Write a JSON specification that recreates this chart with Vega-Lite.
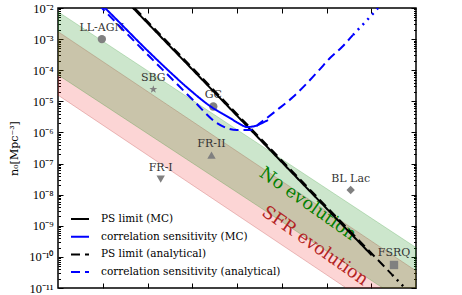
{
  "$schema": "https://vega.github.io/schema/vega-lite/v6.json",
  "width": 358,
  "height": 280,
  "autosize": {"type": "none"},
  "padding": {"left": 58, "top": 8, "right": 46, "bottom": 7},
  "background": "white",
  "config": {
    "view": {"stroke": "black", "strokeWidth": 1.5},
    "axis": {"grid": false, "domain": false, "tickColor": "black", "tickWidth": 1}
  },
  "datasets": {
    "bands": [
      {"band": "SFR evolution", "x": 0, "top": 1.74e-3, "bot": 1.58e-5},
      {"band": "SFR evolution", "x": 8, "top": 3.55e-11, "bot": 3.16e-13},
      {"band": "No evolution", "x": 0, "top": 7.59e-3, "bot": 7.08e-5},
      {"band": "No evolution", "x": 8, "top": 2.0e-10, "bot": 2.0e-12}
    ],
    "bandlabels": [
      {"label": "No evolution", "x": 5.58, "n": 5.0e-9},
      {"label": "SFR evolution", "x": 5.74, "n": 2.22e-10}
    ],
    "sources": [
      {"name": "LL-AGN", "x": 0.98, "n": 1.0e-3},
      {"name": "SBG", "x": 2.13, "n": 2.43e-5},
      {"name": "GC", "x": 3.47, "n": 6.8e-6},
      {"name": "FR-II", "x": 3.43, "n": 1.86e-7},
      {"name": "FR-I", "x": 2.295, "n": 3.16e-8},
      {"name": "BL Lac", "x": 6.54, "n": 1.41e-8},
      {"name": "FSRQ", "x": 7.508, "n": 5.5e-11}
    ],
    "lines": [
      {"series": "PS limit (MC)", "x": 1.5, "n": 1.83e-2},
      {"series": "PS limit (MC)", "x": 7.01, "n": 1.13e-10},
      {"series": "correlation sensitivity (MC)", "x": 0.95, "n": 1.38e-2},
      {"series": "correlation sensitivity (MC)", "x": 1.05, "n": 1.0e-2},
      {"series": "correlation sensitivity (MC)", "x": 2.056, "n": 3.57e-4},
      {"series": "correlation sensitivity (MC)", "x": 2.503, "n": 8.75e-5},
      {"series": "correlation sensitivity (MC)", "x": 2.95, "n": 2.31e-5},
      {"series": "correlation sensitivity (MC)", "x": 3.397, "n": 7.06e-6},
      {"series": "correlation sensitivity (MC)", "x": 3.844, "n": 2.9e-6},
      {"series": "correlation sensitivity (MC)", "x": 4.067, "n": 1.86e-6},
      {"series": "correlation sensitivity (MC)", "x": 4.223, "n": 1.49e-6},
      {"series": "correlation sensitivity (MC)", "x": 4.402, "n": 1.61e-6},
      {"series": "correlation sensitivity (MC)", "x": 4.559, "n": 2.0e-6},
      {"series": "correlation sensitivity (MC)", "x": 4.693, "n": 2.51e-6},
      {"series": "PS limit (analytical)", "x": 1.5, "n": 2.06e-2},
      {"series": "PS limit (analytical)", "x": 7.464, "n": 2.7e-11},
      {"series": "correlation sensitivity (analytical)", "x": 0.9, "n": 1.32e-2},
      {"series": "correlation sensitivity (analytical)", "x": 2.056, "n": 2.65e-4},
      {"series": "correlation sensitivity (analytical)", "x": 2.503, "n": 6.04e-5},
      {"series": "correlation sensitivity (analytical)", "x": 3.017, "n": 1.1e-5},
      {"series": "correlation sensitivity (analytical)", "x": 3.553, "n": 2.0e-6},
      {"series": "correlation sensitivity (analytical)", "x": 4.0, "n": 1.19e-6},
      {"series": "correlation sensitivity (analytical)", "x": 4.291, "n": 1.19e-6},
      {"series": "correlation sensitivity (analytical)", "x": 4.514, "n": 2.0e-6},
      {"series": "correlation sensitivity (analytical)", "x": 4.894, "n": 5.25e-6},
      {"series": "correlation sensitivity (analytical)", "x": 5.251, "n": 1.37e-5},
      {"series": "correlation sensitivity (analytical)", "x": 5.631, "n": 4.84e-5},
      {"series": "correlation sensitivity (analytical)", "x": 5.855, "n": 1.09e-4},
      {"series": "correlation sensitivity (analytical)", "x": 6.078, "n": 2.47e-4},
      {"series": "correlation sensitivity (analytical)", "x": 6.346, "n": 5.57e-4},
      {"series": "correlation sensitivity (analytical)", "x": 6.592, "n": 1.36e-3}
    ],
    "dotblack": [
      {"x": 7.464, "n": 2.7e-11},
      {"x": 8.0, "n": 4.3e-12}
    ],
    "dotblue": [
      {"x": 6.592, "n": 1.36e-3},
      {"x": 6.9, "n": 4.0e-3},
      {"x": 7.151, "n": 1.0e-2},
      {"x": 7.2, "n": 1.2e-2}
    ]
  },
  "resolve": {"axis": {"x": "independent", "y": "independent"}},
  "layer": [
    {
      "data": {"name": "bands"},
      "transform": [{"filter": "datum.band == 'SFR evolution'"}],
      "mark": {"type": "area", "clip": true, "fill": "#f01818", "fillOpacity": 0.18, "stroke": "#b22222", "strokeOpacity": 0.25, "strokeWidth": 1},
      "encoding": {
        "x": {"field": "x", "type": "quantitative", "scale": {"domain": [0, 8], "nice": false, "zero": false},
              "axis": {"orient": "bottom", "values": [1, 2, 3, 4, 5, 6, 7], "tickSize": -5, "labels": false, "title": null}},
        "y": {"field": "top", "type": "quantitative", "scale": {"type": "log", "domain": [1e-11, 1e-2], "nice": false},
              "axis": {"orient": "left", "values": [1e-11, 1e-10, 1e-9, 1e-8, 1e-7, 1e-6, 1e-5, 1e-4, 1e-3, 1e-2], "tickSize": -5,
                       "labelExpr": "'10' + ['⁻²','⁻³','⁻⁴','⁻⁵','⁻⁶','⁻⁷','⁻⁸','⁻⁹','⁻¹⁰','⁻¹¹'][-round(log(datum.value)/LN10)-2]",
                       "labelFont": "Liberation Serif", "labelFontSize": 12.5, "labelColor": "black", "labelPadding": 10,
                       "title": "n₀[Mpc⁻³]", "titleFont": "DejaVu Serif", "titleFontSize": 11, "titleFontWeight": "normal", "titleColor": "black",
                       "titleX": -44, "titleY": 140, "titleBaseline": "middle", "titleAlign": "center", "titleAngle": -90}},
        "y2": {"field": "bot"}
      }
    },
    {
      "data": {"name": "bands"},
      "transform": [{"filter": "datum.band == 'No evolution'"}],
      "mark": {"type": "area", "clip": true, "fill": "green", "fillOpacity": 0.2, "stroke": "green", "strokeOpacity": 0.2, "strokeWidth": 1},
      "encoding": {
        "x": {"field": "x", "type": "quantitative", "scale": {"domain": [0, 8], "nice": false, "zero": false},
              "axis": {"orient": "top", "values": [1, 2, 3, 4, 5, 6, 7], "tickSize": -5, "labels": false, "title": null}},
        "y": {"field": "top", "type": "quantitative", "scale": {"type": "log", "domain": [1e-11, 1e-2], "nice": false},
              "axis": {"orient": "right", "values": [1e-11, 1e-10, 1e-9, 1e-8, 1e-7, 1e-6, 1e-5, 1e-4, 1e-3, 1e-2], "tickSize": -5, "labels": false, "title": null}},
        "y2": {"field": "bot"}
      }
    },
    {
      "data": {"name": "sources"},
      "mark": {"type": "point", "filled": true, "color": "grey", "opacity": 1, "size": 70},
      "encoding": {
        "x": {"field": "x", "type": "quantitative", "scale": {"domain": [0, 8], "nice": false, "zero": false}, "axis": null},
        "y": {"field": "n", "type": "quantitative", "scale": {"type": "log", "domain": [1e-11, 1e-2], "nice": false},
              "axis": {"orient": "left", "values": [2e-11,3e-11,4e-11,5e-11,6e-11,7e-11,8e-11,9e-11,2e-10,3e-10,4e-10,5e-10,6e-10,7e-10,8e-10,9e-10,2e-9,3e-9,4e-9,5e-9,6e-9,7e-9,8e-9,9e-9,2e-8,3e-8,4e-8,5e-8,6e-8,7e-8,8e-8,9e-8,2e-7,3e-7,4e-7,5e-7,6e-7,7e-7,8e-7,9e-7,2e-6,3e-6,4e-6,5e-6,6e-6,7e-6,8e-6,9e-6,2e-5,3e-5,4e-5,5e-5,6e-5,7e-5,8e-5,9e-5,2e-4,3e-4,4e-4,5e-4,6e-4,7e-4,8e-4,9e-4,2e-3,3e-3,4e-3,5e-3,6e-3,7e-3,8e-3,9e-3], "tickSize": -2.5, "labels": false, "title": null}},
        "shape": {"field": "name", "type": "nominal", "legend": null,
                  "scale": {"domain": ["LL-AGN", "SBG", "GC", "FR-I", "FR-II", "BL Lac", "FSRQ"],
                            "range": ["circle", "M0,-1L0.235,-0.324L0.951,-0.309L0.38,0.124L0.588,0.809L0,0.4L-0.588,0.809L-0.38,0.124L-0.951,-0.309L-0.235,-0.324Z", "circle", "triangle-down", "triangle-up", "diamond", "square"]}}
      }
    },
    {
      "data": {"name": "sources"},
      "mark": {"type": "text", "font": "DejaVu Serif", "fontSize": 11, "color": "#333333", "dy": -11.5, "baseline": "middle", "align": "center"},
      "encoding": {
        "x": {"field": "x", "type": "quantitative", "scale": {"domain": [0, 8], "nice": false, "zero": false}, "axis": null},
        "y": {"field": "n", "type": "quantitative", "scale": {"type": "log", "domain": [1e-11, 1e-2], "nice": false},
              "axis": {"orient": "right", "values": [2e-11,3e-11,4e-11,5e-11,6e-11,7e-11,8e-11,9e-11,2e-10,3e-10,4e-10,5e-10,6e-10,7e-10,8e-10,9e-10,2e-9,3e-9,4e-9,5e-9,6e-9,7e-9,8e-9,9e-9,2e-8,3e-8,4e-8,5e-8,6e-8,7e-8,8e-8,9e-8,2e-7,3e-7,4e-7,5e-7,6e-7,7e-7,8e-7,9e-7,2e-6,3e-6,4e-6,5e-6,6e-6,7e-6,8e-6,9e-6,2e-5,3e-5,4e-5,5e-5,6e-5,7e-5,8e-5,9e-5,2e-4,3e-4,4e-4,5e-4,6e-4,7e-4,8e-4,9e-4,2e-3,3e-3,4e-3,5e-3,6e-3,7e-3,8e-3,9e-3], "tickSize": -2.5, "labels": false, "title": null}},
        "text": {"field": "name", "type": "nominal"}
      }
    },
    {
      "data": {"name": "bandlabels"},
      "transform": [{"filter": "datum.label == 'No evolution'"}],
      "mark": {"type": "text", "font": "DejaVu Serif", "fontSize": 17.5, "color": "green", "angle": 35, "baseline": "middle", "align": "center"},
      "encoding": {
        "x": {"field": "x", "type": "quantitative", "scale": {"domain": [0, 8], "nice": false, "zero": false}, "axis": null},
        "y": {"field": "n", "type": "quantitative", "scale": {"type": "log", "domain": [1e-11, 1e-2], "nice": false}, "axis": null},
        "text": {"field": "label", "type": "nominal"}
      }
    },
    {
      "data": {"name": "bandlabels"},
      "transform": [{"filter": "datum.label == 'SFR evolution'"}],
      "mark": {"type": "text", "font": "DejaVu Serif", "fontSize": 17.5, "color": "#b22222", "angle": 35, "baseline": "middle", "align": "center"},
      "encoding": {
        "x": {"field": "x", "type": "quantitative", "scale": {"domain": [0, 8], "nice": false, "zero": false}, "axis": null},
        "y": {"field": "n", "type": "quantitative", "scale": {"type": "log", "domain": [1e-11, 1e-2], "nice": false}, "axis": null},
        "text": {"field": "label", "type": "nominal"}
      }
    },
    {
      "data": {"name": "lines"},
      "mark": {"type": "line", "clip": true, "interpolate": "monotone"},
      "encoding": {
        "x": {"field": "x", "type": "quantitative", "scale": {"domain": [0, 8], "nice": false, "zero": false}, "axis": null},
        "y": {"field": "n", "type": "quantitative", "scale": {"type": "log", "domain": [1e-11, 1e-2], "nice": false}, "axis": null},
        "color": {"field": "series", "type": "nominal",
                  "scale": {"domain": ["PS limit (MC)", "correlation sensitivity (MC)", "PS limit (analytical)", "correlation sensitivity (analytical)"], "range": ["black", "blue", "black", "blue"]},
                  "legend": {"orient": "none", "legendX": 12, "legendY": 201, "title": null, "padding": 0, "rowPadding": 1.7, "labelFont": "DejaVu Serif", "labelFontSize": 10.5, "labelColor": "black", "symbolType": "stroke", "symbolSize": 324, "labelOffset": 11, "labelLimit": 300}},
        "strokeDash": {"field": "series", "type": "nominal",
                  "scale": {"domain": ["PS limit (MC)", "correlation sensitivity (MC)", "PS limit (analytical)", "correlation sensitivity (analytical)"], "range": [[1, 0], [1, 0], [9, 5], [9, 5]]},
                  "legend": {"orient": "none", "legendX": 12, "legendY": 201, "title": null, "padding": 0, "rowPadding": 1.7, "labelFont": "DejaVu Serif", "labelFontSize": 10.5, "labelColor": "black", "symbolType": "stroke", "symbolSize": 324, "labelOffset": 11, "labelLimit": 300}},
        "strokeWidth": {"field": "series", "type": "nominal",
                  "scale": {"domain": ["PS limit (MC)", "correlation sensitivity (MC)", "PS limit (analytical)", "correlation sensitivity (analytical)"], "range": [2, 2, 2.5, 2.5]},
                  "legend": {"orient": "none", "legendX": 12, "legendY": 201, "title": null, "padding": 0, "rowPadding": 1.7, "labelFont": "DejaVu Serif", "labelFontSize": 10.5, "labelColor": "black", "symbolType": "stroke", "symbolSize": 324, "labelOffset": 11, "labelLimit": 300}}
      }
    },
    {
      "data": {"name": "dotblack"},
      "mark": {"type": "line", "clip": true, "color": "black", "strokeWidth": 2.5, "strokeDash": [2, 5]},
      "encoding": {
        "x": {"field": "x", "type": "quantitative", "scale": {"domain": [0, 8], "nice": false, "zero": false}, "axis": null},
        "y": {"field": "n", "type": "quantitative", "scale": {"type": "log", "domain": [1e-11, 1e-2], "nice": false}, "axis": null}
      }
    },
    {
      "data": {"name": "dotblue"},
      "mark": {"type": "line", "clip": true, "color": "blue", "strokeWidth": 2.5, "strokeDash": [2, 5], "interpolate": "monotone"},
      "encoding": {
        "x": {"field": "x", "type": "quantitative", "scale": {"domain": [0, 8], "nice": false, "zero": false}, "axis": null},
        "y": {"field": "n", "type": "quantitative", "scale": {"type": "log", "domain": [1e-11, 1e-2], "nice": false}, "axis": null}
      }
    }
  ]
}
